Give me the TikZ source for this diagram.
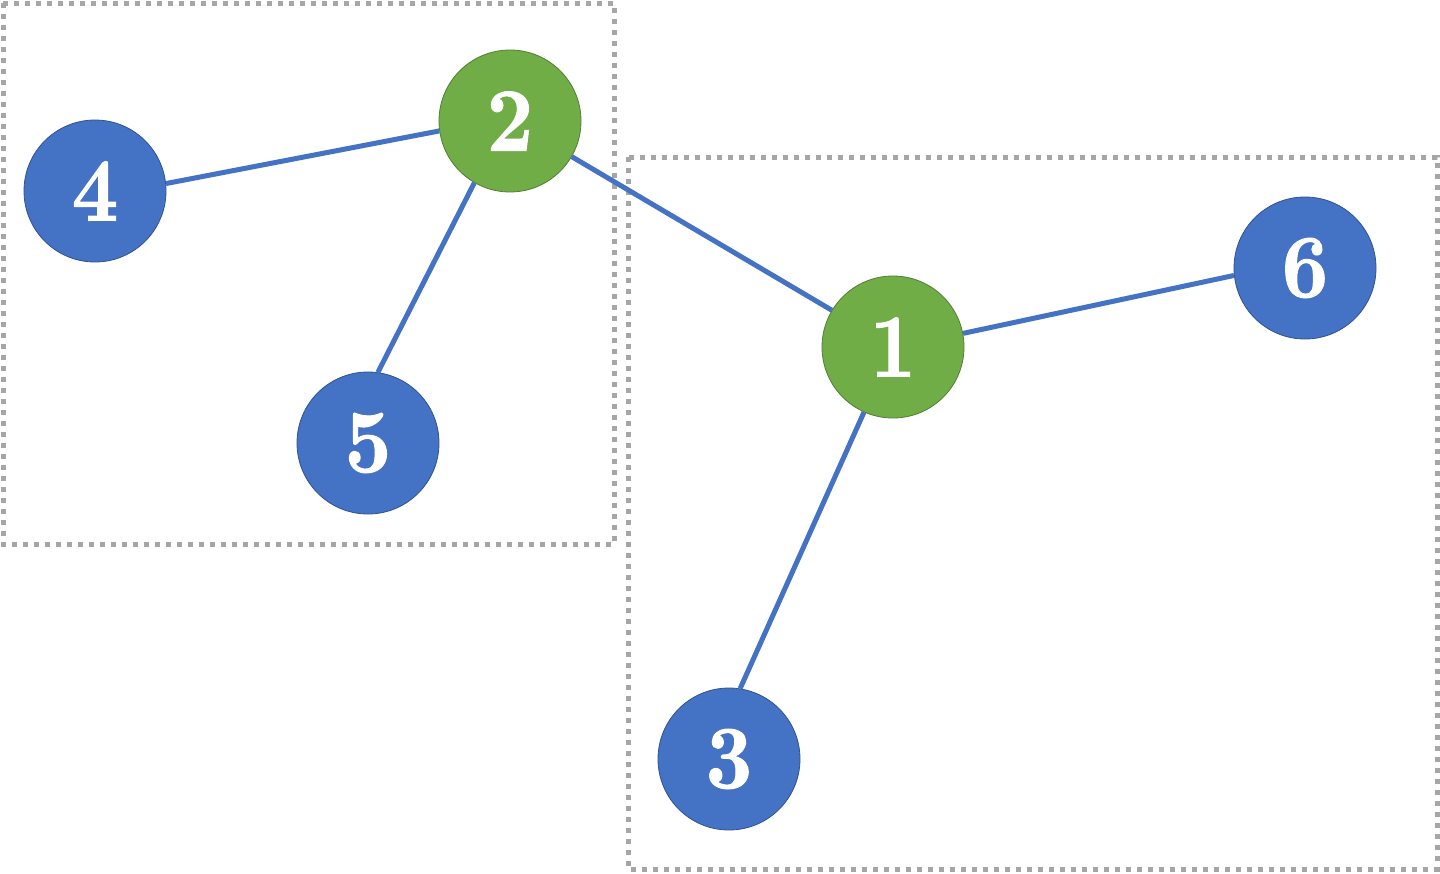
\documentclass[tikz,border=0pt]{standalone}
\usepackage{tikz}
\usepackage{graphicx}
\usepackage{fontspec}
\newfontfamily\dgfont{lmroman10-bold.otf}[FakeBold=1.2]
\definecolor{nblue}{HTML}{4472C4}
\definecolor{ngreen}{HTML}{70AD47}
\definecolor{bgreen}{HTML}{507E32}
\definecolor{bblue}{HTML}{2F528F}
\definecolor{dgrey}{HTML}{A6A6A6}
\newcommand{\dg}[1]{\scalebox{0.9}[1]{#1}}
\tikzset{
  vtx/.style={circle, minimum size=142pt, inner sep=0pt, line width=0.8pt, text=white,
    font=\dgfont\fontsize{90}{90}\selectfont},
  bluev/.style={vtx, fill=nblue, draw=bblue},
  greenv/.style={vtx, fill=ngreen, draw=bgreen},
  edge/.style={draw=nblue, line width=5pt},
  grp/.style={draw=dgrey, line width=5pt, dash pattern=on 5pt off 6pt}
}
\begin{document}
\begin{tikzpicture}[x=1pt,y=-1pt]
\useasboundingbox (0,0) rectangle (1440,873);
\draw[grp] (3,3) rectangle (614,544);
\draw[grp] (628,157) rectangle (1437,869);
\node[bluev] (n4) at (95,191) {\dg{4}};
\node[greenv] (n2) at (510,121) {\dg{2}};
\node[bluev] (n5) at (368,443) {\dg{5}};
\node[greenv] (n1) at (893,347) {\dg{1}};
\node[bluev] (n6) at (1305,268) {\dg{6}};
\node[bluev] (n3) at (729,759) {\dg{3}};
\draw[edge] (n4.6.5) -- (n2.188);
\draw[edge] (n2.240) -- (n5.82);
\draw[edge] (n2.-30) -- (n1.149);
\draw[edge] (n1.11.5) -- (n6.186.6);
\draw[edge] (n1.246) -- (n3.81);
\end{tikzpicture}
\end{document}
